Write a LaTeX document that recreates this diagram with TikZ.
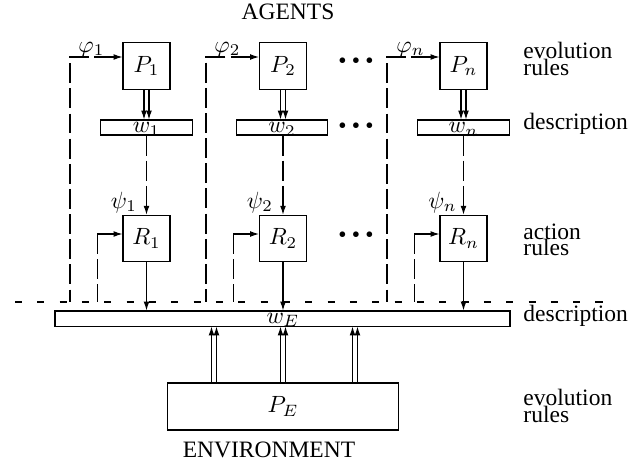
\documentclass[tikz,border=0pt]{standalone}
\usepackage{fontspec}
\setmainfont{Liberation Serif}
\usetikzlibrary{arrows.meta}
\begin{document}
\begin{tikzpicture}[x=0.4255pt,y=-0.4255pt,
  every node/.style={inner sep=0pt, font=\fontsize{10}{12}\selectfont},
  box/.style={draw, line width=0.45pt, minimum width=20pt, minimum height=19.8pt},
  bar/.style={draw, line width=0.45pt, minimum width=39.1pt, minimum height=6.4pt},
  tip/.style={line width=0.45pt, -{Latex[length=3.8pt,width=2.5pt]}},
  rtip/.style={line width=0.45pt, {Latex[length=3.8pt,width=2.5pt]}-},
  vdash/.style={line width=0.4pt, dash pattern=on 8.5pt off 2.2pt},
  hdash/.style={line width=0.45pt, dash pattern=on 3pt off 6.5pt},
  side/.style={anchor=base west},
  side2/.style={anchor=north west, align=left,
    font={\fontsize{10}{7}\selectfont\lineskiplimit=-20pt\lineskip=0pt}},
]
\useasboundingbox (0,0) rectangle (631,467);

% titles
\node (agents) at (288,11.5) {AGENTS};
\node (env) at (269,450) {ENVIRONMENT};

% evolution boxes
\node[box] (P1) at (146.5,66) {$P_1$};
\node[box] (P2) at (283,66) {$P_2$};
\node[box] (Pn) at (463.5,66) {$P_n$};

% description bars
\node[bar] (w1) at (146.5,127.5) {};
\node[bar] (w2) at (282,127.5) {};
\node[bar] (wn) at (463.5,127.5) {};
\node[anchor=base] (w1l) at (146.5,132.5) {$w_1$};
\node[anchor=base] (w2l) at (282,132.5) {$w_2$};
\node[anchor=base] (wnl) at (463.5,132.5) {$w_n$};

% action boxes
\node[box] (R1) at (146.5,238.5) {$R_1$};
\node[box] (R2) at (283,238.5) {$R_2$};
\node[box] (Rn) at (463.5,238.5) {$R_n$};

% environment
\node[draw, line width=0.45pt, minimum width=193.6pt, minimum height=6.4pt] (wE) at (282.5,318.5) {};
\node[anchor=base] (wEl) at (283,323) {$w_E$};
\node[draw, line width=0.45pt, minimum width=97.9pt, minimum height=20pt] (PE) at (283,406.5) {$P_E$};

% dots
\node (d1) at (356,63) {\textbullet\hspace{2.2pt}\textbullet\hspace{2.2pt}\textbullet};
\node (d2) at (356,128) {\textbullet\hspace{2.2pt}\textbullet\hspace{2.2pt}\textbullet};
\node (d3) at (356,237) {\textbullet\hspace{2.2pt}\textbullet\hspace{2.2pt}\textbullet};

% side labels
\node[side2] (ev1) at (523,42) {evolution\\rules};
\node[side] (de1) at (523,129) {description};
\node[side2] (ac1) at (523,223) {action\\rules};
\node[side] (de2) at (523,321) {description};
\node[side2] (ev2) at (523,389) {evolution\\rules};

% coordinates
\coordinate (c1) at (70,57);  \coordinate (b1) at (70,302);
\coordinate (c2) at (206,57); \coordinate (b2) at (206,302);
\coordinate (cn) at (387,57); \coordinate (bn) at (387,302);
\coordinate (r1) at (97,234);  \coordinate (rb1) at (97,302);
\coordinate (r2) at (233,234); \coordinate (rb2) at (233,302);
\coordinate (rn) at (414,234); \coordinate (rbn) at (414,302);
\coordinate (h0) at (15,302); \coordinate (h1) at (612,302);

% phi labels
\node[anchor=base west] (phi1) at (78,52) {$\varphi_1$};
\node[anchor=base west] (phi2) at (214,52) {$\varphi_2$};
\node[anchor=base west] (phin) at (396,52) {$\varphi_n$};
% psi labels
\node[anchor=base west] (psi1) at (110.5,208) {$\psi_1$};
\node[anchor=base west] (psi2) at (246.5,208) {$\psi_2$};
\node[anchor=base west] (psin) at (428,208) {$\psi_n$};

% dashed inputs to P
\draw[vdash, rtip] (P1.west |- c1) -- (c1) -- (b1);
\draw[vdash, rtip] (P2.west |- c2) -- (c2) -- (b2);
\draw[vdash, rtip] (Pn.west |- cn) -- (cn) -- (bn);

% double arrows P -> w
\draw[tip] ([xshift=-1.06pt]P1.south) -- ([xshift=-1.06pt]w1.north);
\draw[tip] ([xshift=1.06pt]P1.south) -- ([xshift=1.06pt]w1.north);
\draw[tip] ([xshift=-1.06pt]P2.south) -- ([xshift=-1.06pt]P2.south |- w2.north);
\draw[tip] ([xshift=1.06pt]P2.south) -- ([xshift=1.06pt]P2.south |- w2.north);
\draw[tip] ([xshift=-1.06pt]Pn.south) -- ([xshift=-1.06pt]wn.north);
\draw[tip] ([xshift=1.06pt]Pn.south) -- ([xshift=1.06pt]wn.north);

% dashed w -> R
\draw[vdash, tip] (w1.south) -- (R1.north);
\draw[vdash, tip] (P2.south |- w2.south) -- (R2.north);
\draw[vdash, tip] (wn.south) -- (Rn.north);

% inputs to R
\draw[vdash] (r1) -- (rb1);
\draw[vdash] (r2) -- (rb2);
\draw[vdash] (rn) -- (rbn);
\draw[tip] (r1) -- (R1.west |- r1);
\draw[tip] (r2) -- (R2.west |- r2);
\draw[tip] (rn) -- (Rn.west |- rn);

% R -> wE
\draw[tip] (R1.south) -- (R1.south |- wE.north);
\draw[tip] (R2.south) -- (R2.south |- wE.north);
\draw[tip] (Rn.south) -- (Rn.south |- wE.north);

% horizontal dashed separator
\draw[hdash] (h0) -- (h1);

% PE -> wE double arrows
\foreach \x [count=\i] in {214,283,355} {
  \coordinate (ea\i) at ({\x-2.5},0);
  \coordinate (eb\i) at ({\x+2.5},0);
  \draw[tip] (ea\i |- PE.north) -- (ea\i |- wE.south);
  \draw[tip] (eb\i |- PE.north) -- (eb\i |- wE.south);
}
\end{tikzpicture}
\end{document}
